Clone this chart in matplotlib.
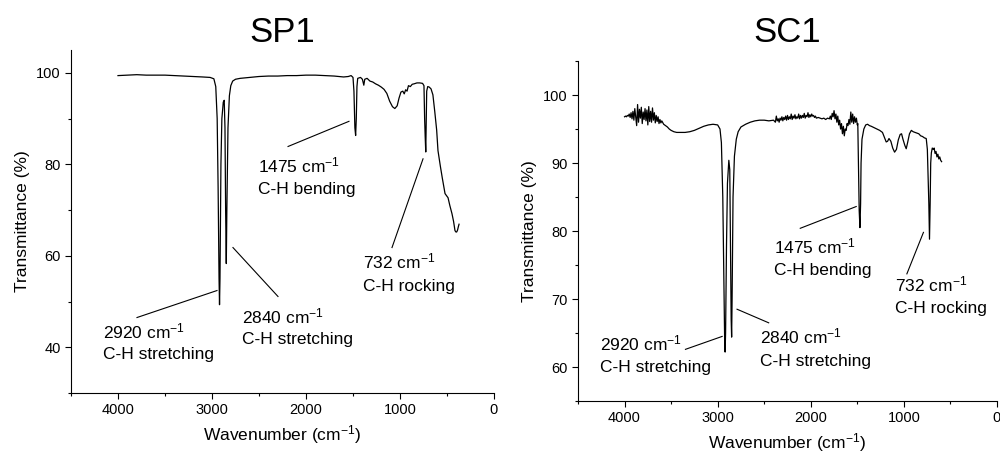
import matplotlib.pyplot as plt
from matplotlib.ticker import MultipleLocator

plt.rcParams["font.family"] = ["Liberation Sans", "DejaVu Sans"]
plt.rcParams["mathtext.default"] = "regular"

# SP1 spectrum (wavenumber cm-1, transmittance %)
sp1_wn = [4000, 3900, 3800, 3700, 3600, 3500, 3400, 3300, 3200, 3100, 3020,
          2980, 2960, 2945, 2935, 2925, 2920, 2915, 2905, 2895, 2880, 2870,
          2862, 2855, 2848, 2842, 2830, 2815, 2800, 2780, 2750, 2700, 2600,
          2500, 2400, 2300, 2200, 2100, 2000, 1900, 1800, 1700, 1600, 1550,
          1520, 1500, 1490, 1480, 1472, 1465, 1458, 1450, 1420, 1400, 1385,
          1375, 1350, 1320, 1290, 1260, 1230, 1200, 1170, 1140, 1110, 1080,
          1055, 1030, 1010, 990, 970, 955, 940, 925, 910, 890, 870, 850, 820,
          790, 760, 745, 738, 732, 726, 722, 716, 705, 690, 670, 650, 630,
          610, 596, 570, 550, 521, 500, 489, 470, 447, 430, 415, 405, 397,
          388, 380, 372]
sp1_t = [99.4, 99.5, 99.6, 99.5, 99.5, 99.5, 99.4, 99.3, 99.2, 99.1, 99.0,
         98.7, 97.0, 90.0, 75.0, 55.0, 49.3, 55.0, 80.0, 90.0, 93.6, 94.0,
         88.0, 70.0, 58.3, 70.0, 88.0, 95.0, 97.2, 98.2, 98.6, 98.8, 99.0,
         99.2, 99.3, 99.3, 99.4, 99.4, 99.5, 99.5, 99.4, 99.3, 99.1, 99.2,
         99.4, 99.0, 96.0, 88.0, 86.3, 90.0, 97.0, 98.8, 99.0, 98.6, 97.3,
         98.6, 98.8, 98.2, 98.0, 97.6, 97.3, 96.9, 96.4, 95.5, 93.8, 92.6,
         92.2, 92.8, 94.5, 95.8, 96.0, 95.4, 96.3, 96.0, 97.2, 97.0, 97.5,
         97.6, 97.8, 97.8, 97.7, 97.2, 90.0, 86.0, 82.7, 88.0, 96.0, 97.0,
         96.9, 96.5, 95.2, 91.5, 87.5, 83.0, 79.5, 77.0, 73.6, 73.0, 72.7,
         71.0, 69.2, 67.5, 65.5, 65.2, 65.2, 65.6, 66.3, 66.9]

# SC1 spectrum
sc1_wn = [4000, 3990, 3980, 3970, 3960, 3950, 3940, 3930, 3920, 3910, 3900,
          3890, 3880, 3870, 3860, 3850, 3840, 3830, 3820, 3810, 3800, 3790,
          3780, 3770, 3760, 3750, 3740, 3730, 3720, 3710, 3700, 3690, 3680,
          3670, 3660, 3650, 3640, 3630, 3620, 3610, 3600, 3580, 3560, 3540,
          3520, 3500, 3470, 3440, 3400, 3350, 3300, 3250, 3200, 3150, 3100,
          3050, 3000, 2975, 2960, 2945, 2935, 2925, 2920, 2915, 2905, 2895,
          2880, 2870, 2862, 2855, 2850, 2845, 2835, 2820, 2800, 2780, 2750,
          2700, 2650, 2600, 2550, 2500, 2450, 2400, 2380, 2370, 2360, 2350,
          2340, 2330, 2320, 2310, 2300, 2290, 2280, 2270, 2260, 2250, 2240,
          2230, 2220, 2210, 2200, 2190, 2180, 2170, 2160, 2150, 2140, 2130,
          2120, 2110, 2100, 2090, 2080, 2070, 2060, 2050, 2040, 2030, 2020,
          2010, 2000, 1990, 1980, 1970, 1960, 1950, 1940, 1920, 1900, 1880,
          1860, 1840, 1820, 1800, 1790, 1780, 1770, 1760, 1750, 1740, 1730,
          1720, 1710, 1700, 1690, 1680, 1670, 1660, 1650, 1640, 1630, 1620,
          1610, 1600, 1590, 1580, 1570, 1560, 1550, 1540, 1530, 1520, 1510,
          1500, 1495, 1488, 1480, 1472, 1465, 1460, 1450, 1430, 1410, 1390,
          1370, 1350, 1320, 1290, 1260, 1230, 1210, 1190, 1175, 1160, 1140,
          1120, 1100, 1080, 1060, 1040, 1025, 1010, 990, 975, 960, 940, 920,
          900, 880, 860, 840, 820, 800, 780, 760, 748, 740, 732, 725, 718,
          712, 705, 695, 685, 675, 665, 655, 645, 635, 625, 615, 605, 595]
sc1_t = [96.8, 96.9, 96.8, 97.0, 96.9, 97.2, 96.7, 97.4, 96.5, 97.6, 96.3,
         98.0, 96.8, 95.5, 98.6, 96.0, 97.9, 96.6, 98.2, 95.8, 97.5, 96.4,
         98.0, 96.2, 97.8, 95.6, 98.3, 96.1, 97.6, 96.0, 98.1, 96.3, 97.4,
         95.9, 97.0, 96.1, 96.8, 95.8, 96.4, 95.9, 96.2, 95.7, 95.5, 95.3,
         95.0, 94.8, 94.6, 94.5, 94.5, 94.5, 94.6, 94.8, 95.1, 95.4, 95.6,
         95.7, 95.6, 95.0, 93.0, 85.0, 75.0, 64.0, 62.2, 65.0, 78.0, 87.0,
         90.4, 89.0, 78.0, 67.0, 64.4, 70.0, 85.0, 91.0, 93.5, 94.6, 95.3,
         95.7, 96.0, 96.2, 96.3, 96.3, 96.2, 96.3, 96.0, 96.9, 96.2, 96.5,
         96.0, 96.6, 96.3, 96.8, 96.2, 96.7, 96.4, 96.9, 96.3, 97.0, 96.4,
         96.8, 96.5, 97.2, 96.4, 96.9, 96.6, 97.1, 96.5, 96.8, 96.6, 97.2,
         96.5, 97.0, 96.6, 97.0, 96.7, 97.3, 96.6, 97.0, 96.8, 97.4, 96.7,
         97.1, 96.8, 97.2, 96.9, 97.0, 96.7, 96.9, 96.6, 96.7, 96.6, 96.5,
         96.6, 96.4, 96.6, 96.5, 96.9, 96.4, 97.3, 96.8, 97.7, 96.5, 97.2,
         96.0, 96.9, 95.6, 96.3, 95.0, 95.8, 94.3, 95.4, 94.0, 95.0, 94.8,
         95.8, 95.5, 96.4, 95.7, 97.5, 96.0, 97.2, 95.8, 96.8, 96.0, 96.6,
         95.6, 95.8, 90.0, 83.0, 80.5, 84.0, 90.0, 93.5, 95.0, 95.6, 95.7,
         95.5, 95.4, 95.2, 95.0, 94.8, 94.5, 93.8, 93.1, 93.2, 93.6, 93.2,
         92.2, 91.6, 92.0, 93.4, 94.2, 94.3, 93.5, 92.6, 92.1, 93.0, 94.3,
         94.8, 94.6, 94.5, 94.4, 94.3, 94.0, 93.9, 93.7, 93.6, 92.0, 88.0,
         84.0, 78.8, 84.0, 90.0, 91.5, 92.2, 92.0, 92.2, 91.4, 91.7, 90.9,
         91.3, 90.6, 90.9, 90.4, 90.2]

peak_labels = ["2920 cm$^{-1}$", "2840 cm$^{-1}$", "1475 cm$^{-1}$", "732 cm$^{-1}$"]
peak_modes = ["C-H stretching", "C-H stretching", "C-H bending", "C-H rocking"]

fig = plt.figure(figsize=(10, 4.54), dpi=100)
ax1 = fig.add_axes([0.071, 0.1344, 0.423, 0.7555])
ax2 = fig.add_axes([0.578, 0.1167, 0.419, 0.7489])


def style_axis(ax, title, ylim, ymajor, yminor, title_y):
    ax.set_xlim(4500, 0)
    ax.set_ylim(*ylim)
    ax.xaxis.set_major_locator(MultipleLocator(1000))
    ax.xaxis.set_minor_locator(MultipleLocator(500))
    ax.yaxis.set_major_locator(MultipleLocator(ymajor))
    ax.yaxis.set_minor_locator(MultipleLocator(yminor))
    ax.spines["top"].set_visible(False)
    ax.spines["right"].set_visible(False)
    ax.tick_params(which="major", direction="out", length=4, width=0.8, labelsize=10.5)
    ax.tick_params(which="minor", direction="out", length=2.5, width=0.8)
    ax.set_xlabel("Wavenumber (cm$^{-1}$)", fontsize=12.5)
    ax.set_ylabel("Transmittance (%)", fontsize=12.5)
    ax.set_title(title, fontsize=25, y=title_y)


def label_peak(ax, i, tx, ty1, ty2, line):
    ax.text(tx, ty1, peak_labels[i], fontsize=12.5, va="baseline", ha="left")
    ax.text(tx, ty2, peak_modes[i], fontsize=12.5, va="baseline", ha="left")
    ax.plot(line[0], line[1], color="black", lw=0.8)


ax1.plot(sp1_wn, sp1_t, color="black", lw=0.9)
style_axis(ax1, "SP1", (30, 105), 20, 10, 1.0)
label_peak(ax1, 0, 4160, 41.9, 37.4, ([3798, 2947], [46.5, 52.4]))
label_peak(ax1, 1, 2684, 45.2, 40.7, ([2777, 2298], [61.8, 51.1]))
label_peak(ax1, 2, 2507, 78.3, 73.6, ([2191, 1543], [83.9, 89.4]))
label_peak(ax1, 3, 1390, 57.2, 52.4, ([1085, 755], [61.8, 81.2]))

ax2.plot(sc1_wn, sc1_t, color="black", lw=0.9)
style_axis(ax2, "SC1", (55, 105), 10, 5, 1.03)
label_peak(ax2, 0, 4265, 62.5, 59.3, ([3346, 2952], [62.6, 64.5]))
label_peak(ax2, 1, 2542, 63.4, 60.2, ([2792, 2452], [68.5, 66.5]))
label_peak(ax2, 2, 2391, 76.7, 73.5, ([2113, 1512], [80.4, 83.6]))
label_peak(ax2, 3, 1094, 71.1, 67.9, ([968, 790], [73.7, 79.8]))

fig.savefig("out.png", dpi=100)
